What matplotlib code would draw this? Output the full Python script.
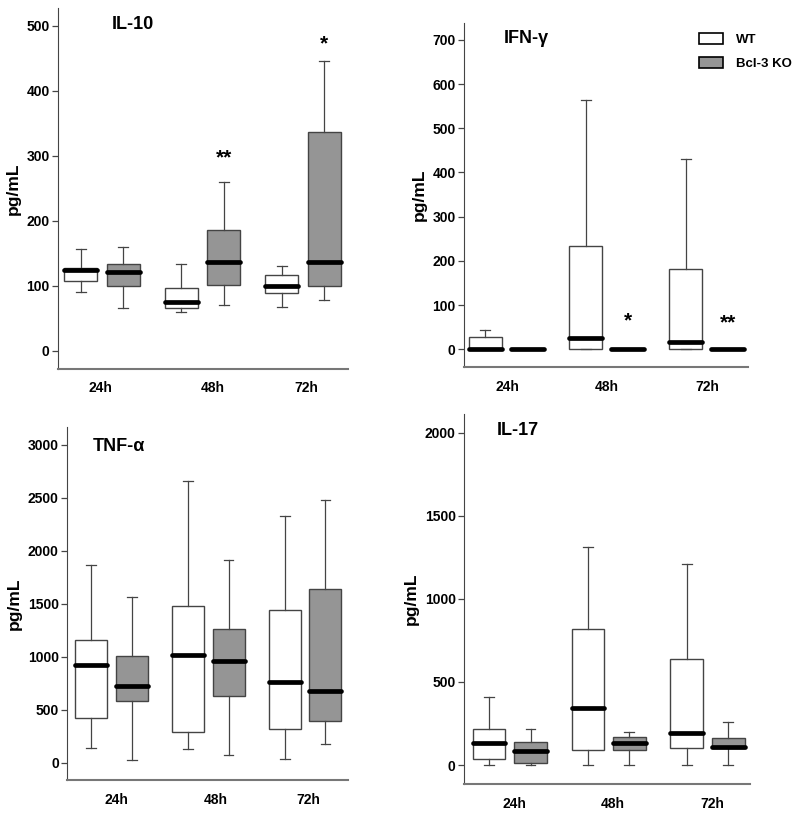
import numpy as np
import matplotlib
matplotlib.use('Agg')
import matplotlib.pyplot as plt
from matplotlib.patches import Patch

plt.rcParams['font.family'] = ['Liberation Sans', 'DejaVu Sans']
plt.rcParams['font.weight'] = 'bold'

times = ['24h', '48h', '72h']
groups = ['WT', 'Bcl-3 KO']

# five-number summaries per time point: [low whisker, q1, median, q3, high whisker]
il10_wt = [[90, 108, 124, 128, 156], [59, 66, 75, 96, 134], [67, 89, 100, 116, 131]]
il10_ko = [[66, 99, 121, 133, 160], [71, 101, 137, 186, 259], [78, 100, 137, 337, 445]]
ifng_wt = [[0, 0, 0, 29, 44], [0, 0, 26, 233, 565], [0, 0, 17, 181, 430]]
ifng_ko = [[0, 0, 0, 0, 0], [0, 0, 0, 0, 0], [0, 0, 0, 0, 0]]
tnfa_wt = [[138, 424, 920, 1153, 1869], [132, 286, 1015, 1476, 2658], [38, 317, 760, 1439, 2331]]
tnfa_ko = [[22, 578, 719, 1008, 1561], [69, 628, 961, 1257, 1913], [173, 393, 672, 1634, 2475]]
il17_wt = [[0, 36, 130, 217, 407], [0, 88, 343, 816, 1312], [0, 100, 195, 638, 1210]]
il17_ko = [[0, 12, 84, 138, 217], [0, 90, 132, 170, 200], [0, 100, 108, 164, 261]]

# significance marks: (time index, text, y value)
il10_stars = [(1, '**', 296), (2, '*', 472)]
ifng_stars = [(1, '*', 64), (2, '**', 60)]

wt_color = 'white'
ko_color = '#959595'
edge = '#444444'

fig = plt.figure(figsize=(8, 8.16), dpi=100)

panels = [
    # title, wt, ko, stars, axes rect, ylim, yticks, xlim, tick pos, title pos (axes frac)
    ('IL-10', il10_wt, il10_ko, il10_stars, [0.0725, 0.5478, 0.3625, 0.4424],
     (-28, 527), np.arange(0, 501, 100), (0.562, 3.448), [0.98, 2.1, 3.03], (0.185, 0.955)),
    ('IFN-\u03b3', ifng_wt, ifng_ko, ifng_stars, [0.58, 0.5502, 0.355, 0.4216],
     (-40, 738), np.arange(0, 701, 100), (0.578, 3.41), [1.01, 2.0, 3.0], (0.14, 0.955)),
    ('TNF-\u03b1', tnfa_wt, tnfa_ko, [], [0.084, 0.0441, 0.351, 0.4326],
     (-163, 3166), np.arange(0, 3001, 500), (0.543, 3.444), [1.05, 2.08, 3.03], (0.09, 0.945)),
    ('IL-17', il17_wt, il17_ko, [], [0.58, 0.0392, 0.3575, 0.4534],
     (-114, 2112), np.arange(0, 2001, 500), (0.537, 3.43), [1.05, 2.04, 3.05], (0.115, 0.955)),
]

off = 0.21
bw = 0.33

for title, wt, ko, stars, rect, ylim, yticks, xlim, xt, tpos in panels:
    ax = fig.add_axes(rect)
    for vals, sign, fc in [(wt, -1, wt_color), (ko, 1, ko_color)]:
        stats = []
        for v in vals:
            stats.append({'whislo': v[0], 'q1': v[1], 'med': v[2],
                          'q3': v[3], 'whishi': v[4], 'fliers': []})
        pos = np.arange(1, len(vals) + 1) + sign * off
        ax.bxp(stats, positions=pos, widths=bw, capwidths=0.1,
               patch_artist=True, showfliers=False, manage_ticks=False,
               boxprops=dict(facecolor=fc, edgecolor=edge, linewidth=1.0),
               whiskerprops=dict(color=edge, linewidth=0.9),
               capprops=dict(color=edge, linewidth=0.9),
               medianprops=dict(color='black', linewidth=3.4,
                                solid_capstyle='round'))
    for i, s, y in stars:
        ax.text(i + 1 + off, y, s, ha='center', va='center', fontsize=15,
                fontweight='bold')
    ax.set_ylim(*ylim)
    ax.set_xlim(*xlim)
    ax.set_yticks(yticks)
    ax.set_xticks(xt)
    ax.set_xticklabels(times)
    ax.tick_params(axis='x', length=0, pad=9, labelsize=10)
    ax.tick_params(axis='y', length=4, width=0.9, color=edge, pad=2, labelsize=10)
    for lab in ax.get_xticklabels() + ax.get_yticklabels():
        lab.set_fontweight('bold')
    ax.spines['top'].set_visible(False)
    ax.spines['right'].set_visible(False)
    ax.spines['left'].set_color(edge)
    ax.spines['bottom'].set_color('#777777')
    ax.spines['bottom'].set_linewidth(1.5)
    ax.set_ylabel('pg/mL', fontsize=12.5, fontweight='bold', labelpad=4)
    ax.text(tpos[0], tpos[1], title, transform=ax.transAxes, fontsize=13,
            fontweight='bold', ha='left', va='center')
    if title.startswith('IFN'):
        handles = [Patch(facecolor=wt_color, edgecolor='black', linewidth=1.2),
                   Patch(facecolor=ko_color, edgecolor='black', linewidth=1.2)]
        ax.legend(handles, groups, loc='upper left', bbox_to_anchor=(0.805, 0.99),
                  frameon=False, borderpad=0, handlelength=1.8, handleheight=0.9,
                  handletextpad=1.0, labelspacing=0.8,
                  prop={'weight': 'bold', 'size': 9.5})

fig.savefig('out.png', dpi=100)
